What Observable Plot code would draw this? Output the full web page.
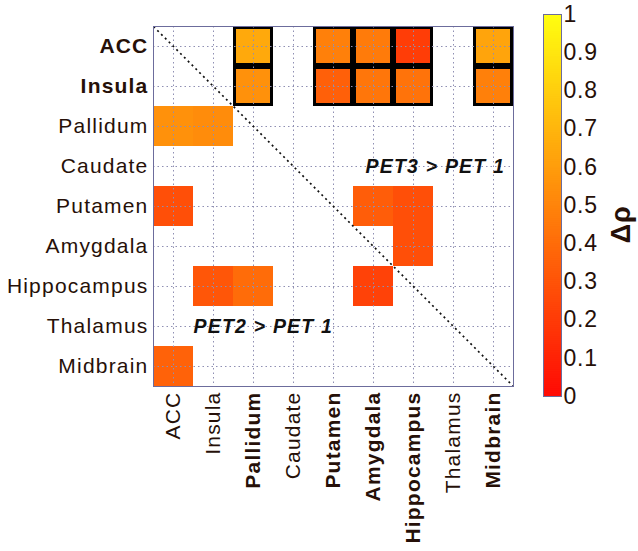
<!DOCTYPE html>
<html>
<head>
<meta charset="utf-8">
<script src="https://cdn.jsdelivr.net/npm/d3@7"></script>
<script src="https://cdn.jsdelivr.net/npm/@observablehq/plot@0.6"></script>
<style>
  body { margin: 0; background: #fff; }
  #chart { position: relative; width: 638px; height: 551px; overflow: hidden; background: #fff; }
  #chart svg { position: absolute; top: 0; }
</style>
</head>
<body>
<div id="chart"></div>
<script>
// ---- data ----
const regions = ["ACC", "Insula", "Pallidum", "Caudate", "Putamen", "Amygdala", "Hippocampus", "Thalamus", "Midbrain"];
const boldXLabels = ["Pallidum", "Putamen", "Amygdala", "Hippocampus", "Midbrain"];
const boldYLabels = ["ACC", "Insula"];

const cellRows = ["ACC", "ACC", "ACC", "ACC", "ACC",
                  "Insula", "Insula", "Insula", "Insula", "Insula",
                  "Putamen", "Putamen", "Amygdala",
                  "Pallidum", "Pallidum", "Putamen",
                  "Hippocampus", "Hippocampus", "Hippocampus", "Midbrain"];
const cellCols = ["Pallidum", "Putamen", "Amygdala", "Hippocampus", "Midbrain",
                  "Pallidum", "Putamen", "Amygdala", "Hippocampus", "Midbrain",
                  "Amygdala", "Hippocampus", "Hippocampus",
                  "ACC", "Insula", "ACC",
                  "Insula", "Pallidum", "Amygdala", "ACC"];
const cellValues = [0.65, 0.48, 0.46, 0.21, 0.63,
                    0.55, 0.35, 0.44, 0.43, 0.48,
                    0.34, 0.28, 0.28,
                    0.55, 0.53, 0.28,
                    0.31, 0.40, 0.23, 0.36];
const cellOutlined = [true, true, true, true, true,
                      true, true, true, true, true,
                      false, false, false,
                      false, false, false,
                      false, false, false, false];

const annotationTexts = ["PET3 > PET 1", "PET2 > PET 1"];
const colorbarTicks = [0, 0.1, 0.2, 0.3, 0.4, 0.5, 0.6, 0.7, 0.8, 0.9, 1];
const colorbarLabel = "Δρ";

// ---- derived tables ----
const n = regions.length;
const cells = cellRows.map((r, i) => ({
  ri: regions.indexOf(r),
  ci: regions.indexOf(cellCols[i]),
  value: cellValues[i],
  outlined: cellOutlined[i]
}));
const tickPos = regions.map((_, i) => i + 0.5);
const labelAt = v => regions[Math.round(v - 0.5)];
const posOf = names => names.map(s => regions.indexOf(s) + 0.5);
const plainX = regions.filter(r => !boldXLabels.includes(r));
const plainY = regions.filter(r => !boldYLabels.includes(r));

const colorScale = { type: "linear", domain: [0, 1], range: ["#ff0a05", "#ffff10"] };
const font = "'Liberation Sans', Arial, Helvetica, sans-serif";
const ink = "#261008";
const frameColor = "#6c6c9c";

const annotations = [
  { text: annotationTexts[0], x: regions.indexOf("Amygdala") + 0.3, y: regions.indexOf("Caudate") + 0.5 },
  { text: annotationTexts[1], x: regions.indexOf("Insula"), y: regions.indexOf("Thalamus") + 0.5 }
];

const main = Plot.plot({
  width: 638,
  height: 551,
  marginLeft: 153,
  marginRight: 125,
  marginTop: 26,
  marginBottom: 165,
  style: { fontFamily: font, fontSize: "21px", letterSpacing: "1.2px", color: ink, background: "white" },
  x: { domain: [0, n], axis: null },
  y: { domain: [0, n], reverse: true, axis: null },
  color: colorScale,
  marks: [
    Plot.rect(cells.filter(d => !d.outlined), {
      x1: "ci", x2: d => d.ci + 1, y1: "ri", y2: d => d.ri + 1, fill: "value"
    }),
    Plot.rect(cells.filter(d => d.outlined), {
      x1: "ci", x2: d => d.ci + 1, y1: "ri", y2: d => d.ri + 1, fill: "value",
      stroke: "black", strokeWidth: 3, inset: 1.5
    }),
    Plot.gridX({ ticks: tickPos, stroke: "#8f8fb3", strokeOpacity: 1, strokeDasharray: "1.5,3" }),
    Plot.gridY({ ticks: tickPos, stroke: "#8f8fb3", strokeOpacity: 1, strokeDasharray: "1.5,3" }),
    Plot.link([{ a: 0, b: n }], {
      x1: "a", y1: "a", x2: "b", y2: "b", stroke: "#111", strokeWidth: 1.7, strokeDasharray: "2,3.4"
    }),
    Plot.frame({ stroke: frameColor, strokeWidth: 1 }),
    Plot.axisY({ anchor: "left", ticks: posOf(plainY), tickFormat: labelAt, tickSize: 0, tickPadding: 5, label: null }),
    Plot.axisY({ anchor: "left", ticks: posOf(boldYLabels), tickFormat: labelAt, tickSize: 0, tickPadding: 5, label: null, fontWeight: "bold" }),
    Plot.axisX({ anchor: "bottom", ticks: posOf(plainX), tickFormat: labelAt, tickSize: 0, tickPadding: 5, tickRotate: -90, label: null }),
    Plot.axisX({ anchor: "bottom", ticks: posOf(boldXLabels), tickFormat: labelAt, tickSize: 0, tickPadding: 5, tickRotate: -90, label: null, fontWeight: "bold" }),
    Plot.text(annotations, {
      x: "x", y: "y", text: "text", textAnchor: "start", fontWeight: "bold", fontStyle: "italic",
      fontSize: 19.5, fill: "#111", letterSpacing: "-0.3px"
    })
  ]
});

const step = 0.005;
const barSteps = d3.range(0, 1, step);
const colorbar = Plot.plot({
  width: 110,
  height: 551,
  marginLeft: 15,
  marginRight: 77,
  marginTop: 14,
  marginBottom: 155,
  style: { fontFamily: font, fontSize: "23px", letterSpacing: "0.8px", color: ink, background: "transparent" },
  y: { domain: [0, 1], axis: null },
  color: colorScale,
  marks: [
    Plot.rect(barSteps, { y1: d => d, y2: d => Math.min(1, d + step * 1.6), fill: d => d + step / 2 }),
    Plot.frame({ stroke: frameColor, strokeWidth: 1 }),
    Plot.axisY({ anchor: "right", ticks: colorbarTicks, tickFormat: d => String(d), tickSize: 0, tickPadding: 2, label: null }),
    Plot.text([colorbarLabel], { text: d => d, frameAnchor: "right", dx: 60, rotate: -90, fontWeight: "bold", fontSize: 27, fill: ink })
  ]
});

const chart = document.getElementById("chart");
main.style.left = "0px";
colorbar.style.left = "528px";
chart.appendChild(main);
chart.appendChild(colorbar);
</script>
</body>
</html>
